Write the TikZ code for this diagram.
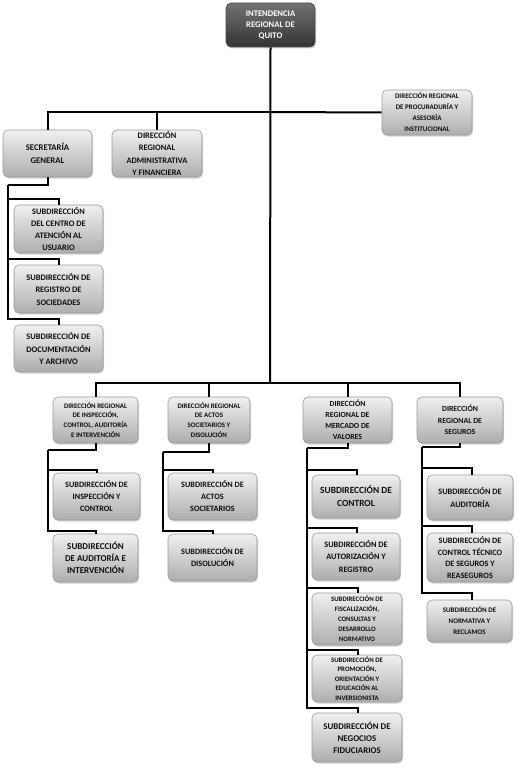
\documentclass[tikz,border=0pt]{standalone}
\usepackage{fontspec}
\setmainfont{Carlito}[BoldFont={Carlito Bold}]
\usetikzlibrary{shadows,calc}
\newcommand\fs[2]{\fontsize{#1}{#2}\selectfont\bfseries}
\tikzset{
  box/.style={rectangle, rounded corners=5pt, draw=black!40, line width=0.6pt,
    top color=black!6, bottom color=black!32, text=black!95, align=center,
    inner sep=0pt, drop shadow={opacity=0.35, shadow xshift=1pt, shadow yshift=-1.5pt}},
  topbox/.style={box, draw=black!70, top color=black!55, bottom color=black!80, text=white},
  conn/.style={line width=2pt, black},
}
\begin{document}
\begin{tikzpicture}[x=1pt,y=-1pt]
\useasboundingbox (0,0) rectangle (520,768);
% nodes
\node[topbox, minimum width=89pt, minimum height=44pt, font=\fs{8.6}{11}] (top) at (270.5,25) {INTENDENCIA\\REGIONAL DE\\QUITO};
\node[box, minimum width=90pt, minimum height=45pt, font=\fs{7}{11}] (proc) at (427,112.5) {DIRECCIÓN REGIONAL\\DE PROCURADURÍA Y\\ASESORÍA\\INSTITUCIONAL};
\node[box, minimum width=89pt, minimum height=47pt, font=\fs{8.7}{13.5}] (sec) at (47.5,153.5) {SECRETARÍA\\GENERAL};
\node[box, minimum width=90pt, minimum height=47pt, font=\fs{8.4}{12.3}] (adm) at (157,153.5) {DIRECCIÓN\\REGIONAL\\ADMINISTRATIVA\\Y FINANCIERA};
\node[box, minimum width=89pt, minimum height=48pt, font=\fs{8.4}{12.3}] (s1) at (58.5,229) {SUBDIRECCIÓN\\DEL CENTRO DE\\ATENCIÓN AL\\USUARIO};
\node[box, minimum width=89pt, minimum height=48pt, font=\fs{8.4}{12.5}] (s2) at (58.5,289) {SUBDIRECCIÓN DE\\REGISTRO DE\\SOCIEDADES};
\node[box, minimum width=89pt, minimum height=47pt, font=\fs{8.4}{12.5}] (s3) at (58.5,348.5) {SUBDIRECCIÓN DE\\DOCUMENTACIÓN\\Y ARCHIVO};
\node[box, minimum width=85pt, minimum height=46pt, font=\fs{6.9}{9.8}] (dinsp) at (95.5,420) {DIRECCIÓN REGIONAL\\DE INSPECCIÓN,\\CONTROL, AUDITORÍA\\E INTERVENCIÓN};
\node[box, minimum width=82pt, minimum height=46pt, font=\fs{6.9}{9.8}] (dactos) at (209,420) {DIRECCIÓN REGIONAL\\DE ACTOS\\SOCIETARIOS Y\\DISOLUCIÓN};
\node[box, minimum width=89pt, minimum height=46pt, font=\fs{7.8}{11}] (dmerc) at (347.5,420) {DIRECCIÓN\\REGIONAL DE\\MERCADO DE\\VALORES};
\node[box, minimum width=86pt, minimum height=46pt, font=\fs{7.8}{11.5}] (dseg) at (460,420) {DIRECCIÓN\\REGIONAL DE\\SEGUROS};
\node[box, minimum width=87pt, minimum height=47pt, font=\fs{8.2}{12}] (i1) at (96.5,496.5) {SUBDIRECCIÓN DE\\INSPECCIÓN Y\\CONTROL};
\node[box, minimum width=85pt, minimum height=48pt, font=\fs{9}{12}] (i2) at (95.5,558) {SUBDIRECCIÓN\\DE AUDITORÍA E\\INTERVENCIÓN};
\node[box, minimum width=89pt, minimum height=47pt, font=\fs{8.2}{12}] (a1) at (212.5,496.5) {SUBDIRECCIÓN DE\\ACTOS\\SOCIETARIOS};
\node[box, minimum width=89pt, minimum height=47pt, font=\fs{8.2}{12}] (a2) at (212.5,557.5) {SUBDIRECCIÓN DE\\DISOLUCIÓN};
\node[box, minimum width=88pt, minimum height=43pt, font=\fs{9.4}{13}] (m1) at (356,496.5) {SUBDIRECCIÓN DE\\CONTROL};
\node[box, minimum width=88pt, minimum height=47pt, font=\fs{8.3}{12.5}] (m2) at (356,556.5) {SUBDIRECCIÓN DE\\AUTORIZACIÓN Y\\REGISTRO};
\node[box, minimum width=90pt, minimum height=52pt, font=\fs{6.8}{10}] (m3) at (357,619) {SUBDIRECCIÓN DE\\FISCALIZACIÓN,\\CONSULTAS Y\\DESARROLLO\\NORMATIVO};
\node[box, minimum width=90pt, minimum height=47pt, font=\fs{6.8}{9.5}] (m4) at (357,678.5) {SUBDIRECCIÓN DE\\PROMOCIÓN,\\ORIENTACIÓN Y\\EDUCACIÓN AL\\INVERSIONISTA};
\node[box, minimum width=90pt, minimum height=49pt, font=\fs{8.8}{12}] (m5) at (357,737.5) {SUBDIRECCIÓN DE\\NEGOCIOS\\FIDUCIARIOS};
\node[box, minimum width=86pt, minimum height=45pt, font=\fs{8.3}{13}] (g1) at (470,497.5) {SUBDIRECCIÓN DE\\AUDITORÍA};
\node[box, minimum width=86pt, minimum height=49pt, font=\fs{8.2}{11.5}] (g2) at (470,557.5) {SUBDIRECCIÓN DE\\CONTROL TÉCNICO\\DE SEGUROS Y\\REASEGUROS};
\node[box, minimum width=85pt, minimum height=42pt, font=\fs{7}{11}] (g3) at (469.5,621) {SUBDIRECCIÓN DE\\NORMATIVA Y\\RECLAMOS};
% coordinates
\coordinate (busA) at (270,112);
\coordinate (busB) at (270,383);
\coordinate (secS) at (8,185);
\coordinate (insS) at (48,450);
\coordinate (actS) at (163,452);
\coordinate (merS) at (307,448);
\coordinate (segS) at (422,447);
% main trunk
\draw[conn] (top.south) -- (busB);
\draw[conn] (busA) -| (sec.north);
\draw[conn] (busA) -| (adm.north);
\draw[conn] (busA) -- (proc.west);
\draw[conn] (busB) -| (dinsp.north);
\draw[conn] (busB) -| (dactos.north);
\draw[conn] (busB) -| (dmerc.north);
\draw[conn] (busB) -| (dseg.north);
% secretaria
\draw[conn] (sec.south) |- (secS);
\foreach \c in {s1,s2,s3} \draw[conn] (secS) |- ($(\c.north)+(0,-6)$) -- (\c.north);
% inspeccion
\draw[conn] (dinsp.south) |- (insS);
\foreach \c in {i1,i2} \draw[conn] (insS) |- ($(\c.north)+(0,-3)$) -| (\c.north);
% actos
\draw[conn] (dactos.south) |- (actS);
\foreach \c in {a1,a2} \draw[conn] (actS) |- ($(\c.north)+(0,-3)$) -| (\c.north);
% mercado
\draw[conn] (dmerc.south) |- (merS);
\foreach \c in {m1,m2,m3,m4,m5} \draw[conn] (merS) |- ($(\c.north)+(1,-5)$) -- ($(\c.north)+(1,0)$);
% seguros
\draw[conn] (dseg.south) |- (segS);
\foreach \c in {g1,g2,g3} \draw[conn] (segS) |- ($(\c.north)+(2,-7)$) -- ($(\c.north)+(2,0)$);
\end{tikzpicture}
\end{document}
